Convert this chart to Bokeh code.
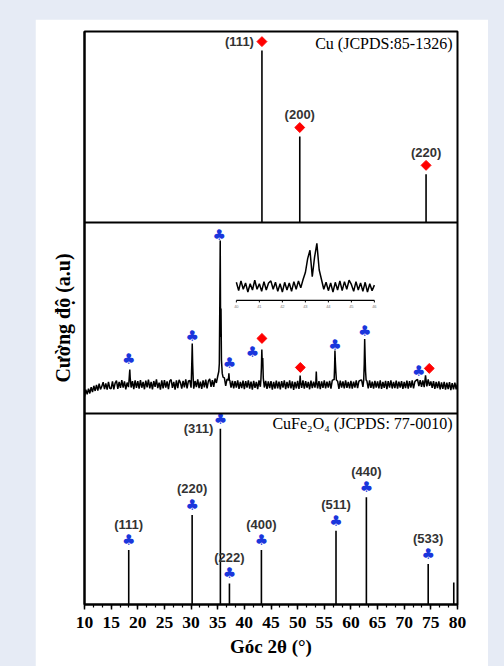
from bokeh.plotting import figure
from bokeh.models import Range1d, Span, SingleIntervalTicker, FixedTicker
from bokeh.core.properties import value
from bokeh.embed import file_html
from bokeh.resources import INLINE

# ---------------- data ----------------
# Cu reference (JCPDS 85-1326)
cu_2theta = [43.3, 50.4, 74.1]
cu_intensity = [100, 50, 28]
cu_hkl = ["(111)", "(200)", "(220)"]

# CuFe2O4 reference (JCPDS 77-0010)
fe_2theta = [18.3, 30.2, 35.5, 37.2, 43.2, 57.2, 62.9, 74.5]
fe_intensity = [31, 51, 100, 12, 31, 42, 61, 23]
fe_hkl = ["(111)", "(220)", "(311)", "(222)", "(400)", "(511)", "(440)", "(533)"]
fe_extra_2theta = [79.3]
fe_extra_intensity = [12.5]

# measured sample pattern: background every 0.25 deg from 10 to 80
sample_start = 10.0
sample_step = 0.25
sample_background = [
    9.0, 12.5, 10.0, 13.0, 10.5, 13.8, 11.2, 14.5, 11.8, 15.0, 12.0, 15.6, 12.6, 14.2, 16.4, 12.8, 15.8, 12.5, 16.6, 13.2,
    13.0, 16.8, 12.6, 15.9, 17.2, 12.9, 16.5, 13.4, 17.5, 13.5, 16.8, 12.6, 16.2, 13.8, 17.6, 13.6, 16.9, 12.8, 17.3, 13.4,
    17.0, 13.0, 17.5, 13.5, 16.6, 12.7, 17.2, 13.7, 17.8, 13.2, 16.5, 12.6, 17.0, 14.0, 17.9, 13.3, 16.2, 12.5, 17.4, 13.2,
    17.5, 13.6, 16.8, 12.8, 17.0, 17.8, 13.4, 16.6, 12.5, 17.3, 13.3, 17.6, 16.2, 13.0, 17.1, 13.7, 17.9, 13.2, 16.9, 17.4,
    13.5, 17.5, 13.0, 17.0, 13.8, 17.9, 13.3, 16.7, 12.9, 17.4, 13.7, 17.7, 13.2, 16.9, 18.1, 13.9, 17.5, 14.0, 18.3, 16.0,
    19.5, 21.0, 20.0, 19.2, 17.8, 18.6, 14.5, 18.0, 13.8, 17.5, 13.6, 17.1, 13.2, 16.9, 13.5, 17.4, 12.9, 16.6, 13.3, 17.2,
    12.8, 17.0, 13.5, 17.4, 13.0, 16.7, 12.5, 17.1, 13.4, 16.5, 12.8, 17.3, 14.0, 17.8, 16.8, 13.6, 17.1, 12.9, 16.8, 13.3,
    16.9, 12.5, 16.5, 13.0, 17.2, 13.2, 16.7, 12.6, 17.0, 13.5, 17.4, 12.8, 16.5, 13.3, 17.3, 13.1, 16.8, 12.4, 16.6, 13.2,
    17.1, 12.9, 16.5, 13.4, 17.4, 13.0, 16.9, 13.5, 16.6, 12.7, 17.2, 13.3, 16.7, 13.6, 17.3, 13.1, 17.0, 12.8, 16.8, 13.4,
    17.4, 13.2, 16.7, 13.5, 17.1, 13.0, 17.3, 17.8, 13.7, 13.3, 16.9, 12.9, 17.2, 13.6, 16.8, 13.1, 17.4, 13.4, 16.6, 13.2,
    17.1, 13.0, 16.7, 13.6, 17.3, 13.3, 16.9, 17.4, 17.6, 13.9, 17.2, 13.5, 17.0, 13.1, 17.4, 13.4, 16.7, 13.0, 17.1, 13.6,
    16.8, 13.2, 17.3, 12.9, 16.5, 13.4, 17.1, 12.8, 16.9, 13.5, 17.4, 13.1, 16.6, 13.3, 17.2, 13.0, 16.7, 13.6, 17.0, 12.9,
    16.5, 13.3, 17.2, 13.0, 16.9, 13.6, 17.3, 13.1, 16.7, 17.4, 17.8, 14.3, 17.5, 13.9, 17.3, 13.8, 17.7, 14.2, 17.9, 14.5,
    16.8, 13.4, 17.0, 12.9, 16.6, 13.3, 16.8, 12.6, 16.3, 12.9, 16.5, 12.5, 16.1, 12.8, 16.4, 12.3, 15.9, 12.6, 16.2, 12.7,
    15.8,
]
# sample peaks (2theta, intensity) point by point
sample_peak_2theta = [
    [18.35, 18.45, 18.5, 18.57, 18.65],
    [30.05, 30.15, 30.22, 30.3, 30.4],
    [35.2, 35.3, 35.4, 35.47, 35.55, 35.62, 35.7, 35.85, 36.0],
    [37.0, 37.1, 37.2],
    [43.1, 43.2, 43.28, 43.36, 43.45, 43.55],
    [50.4, 50.47, 50.55],
    [53.42, 53.5, 53.58],
    [56.85, 56.93, 57.0, 57.08, 57.17, 57.27],
    [62.4, 62.5, 62.58, 62.66, 62.75, 62.85],
    [73.9, 74.0, 74.1],
]
sample_peak_intensity = [
    [17.0, 21.0, 23.0, 19.0, 16.5],
    [17.5, 28.0, 36.6, 26.0, 18.0],
    [22.0, 26.0, 60.0, 90.6, 40.0, 55.0, 28.0, 21.0, 19.0],
    [17.5, 21.0, 17.0],
    [17.5, 24.0, 33.5, 26.0, 29.0, 18.5],
    [16.5, 19.9, 16.5],
    [16.5, 22.0, 16.5],
    [17.5, 24.0, 33.0, 27.0, 22.0, 17.5],
    [17.5, 26.0, 39.0, 30.0, 22.0, 17.5],
    [17.5, 20.0, 17.5],
]
# phase markers on the sample pattern
sample_club_2theta = [18.3, 30.2, 35.3, 37.2, 41.5, 57.0, 62.6, 72.7]
sample_club_height = [28.3, 40.8, 93.2, 26.7, 32.0, 36.0, 43.0, 22.5]
sample_cu_2theta = [43.3, 50.5, 74.7]
sample_cu_height = [39.3, 24.1, 23.6]

# inset: zoom 40-46 deg, every 0.1 deg
inset_2theta_start = 40.0
inset_step = 0.1
inset_intensity = [
    13.0, 7.0, 14.0, 8.0, 12.5, 6.0, 12.0, 7.5, 14.5, 8.0,
    12.0, 6.5, 13.5, 7.5, 12.5, 14.0, 8.0, 13.0, 6.5, 12.0,
    6.0, 13.0, 7.5, 12.5, 6.5, 13.5, 8.0, 14.0, 9.0, 15.0,
    20.0, 30.0, 36.0, 17.0, 31.0, 41.0, 22.0, 15.0, 8.0, 13.0,
    7.0, 12.5, 6.0, 13.0, 7.5, 14.0, 7.0, 13.5, 8.0, 14.5,
    11.5, 6.5, 13.5, 7.5, 12.5, 6.5, 13.0, 6.0, 12.0, 7.0, 11.0,
]
inset_ticks = [40, 41, 42, 43, 44, 45, 46]

# ---------------- layout constants ----------------
TOP_BASE = 200.0      # panel offsets on the shared y scale
MID_BASE = 100.0
BOT_BASE = 0.0
REF_SCALE_CU = 0.90
REF_SCALE_FE = 0.92
PPU = 573.0 / 300.0   # pixels per y unit
INSET_X0, INSET_X1 = 38.5, 64.4
INSET_Y0 = 159.2
INSET_SY = 0.73

SERIF = value("Liberation Serif")
SANS = value("Liberation Sans")
CLUB_COLOR = "#1a36dc"
DIAMOND_COLOR = "#ff0000"
DIAMOND_ANGLE = 0.7854

p = figure(width=453, height=647, x_range=Range1d(10, 80), y_range=Range1d(0, 300),
           output_backend="svg", toolbar_location=None,
           min_border_left=49, min_border_right=31, min_border_top=12, min_border_bottom=62)
p.grid.visible = False
p.background_fill_color = "white"
p.border_fill_color = "white"
p.outline_line_color = "black"
p.outline_line_width = 2

# axes
xa = p.xaxis[0]
xa.ticker = SingleIntervalTicker(interval=5, num_minor_ticks=3)
xa.axis_line_width = 2
xa.major_tick_out = 5
xa.major_tick_in = 0
xa.minor_tick_out = 3
xa.minor_tick_in = 0
xa.major_tick_line_width = 1.5
xa.minor_tick_line_width = 1.2
xa.major_label_standoff = 7
xa.major_label_text_font = "Liberation Serif"
xa.major_label_text_font_style = "bold"
xa.major_label_text_font_size = "17.5px"
xa.major_label_text_color = "black"
xa.axis_label = "Góc 2θ (°)"
xa.axis_label_text_font = "Liberation Serif"
xa.axis_label_text_font_style = "bold"
xa.axis_label_text_font_size = "19px"
xa.axis_label_text_color = "black"
xa.axis_label_standoff = 5

ya = p.yaxis[0]
ya.ticker = FixedTicker(ticks=[])
ya.major_label_text_font_size = "0px"
ya.axis_line_width = 2
ya.major_tick_line_color = None
ya.minor_tick_line_color = None
ya.axis_label = "Cường độ (a.u)"
ya.axis_label_text_font = "Liberation Serif"
ya.axis_label_text_font_style = "bold"
ya.axis_label_text_font_size = "20px"
ya.axis_label_text_color = "black"
ya.axis_label_standoff = 11

for loc in (MID_BASE, TOP_BASE):
    p.add_layout(Span(location=loc, dimension="width", line_color="black", line_width=2))

# ---------- top panel: Cu ----------
cu_top = [TOP_BASE + v * REF_SCALE_CU for v in cu_intensity]
p.segment(x0=cu_2theta, y0=[TOP_BASE] * len(cu_2theta), x1=cu_2theta, y1=cu_top,
          line_color="black", line_width=1.6)
cu_mark_y = [t + 9.0 / PPU for t in cu_top]
p.scatter(x=cu_2theta, y=cu_mark_y, marker="square", angle=DIAMOND_ANGLE, size=7,
          fill_color=DIAMOND_COLOR, line_color=DIAMOND_COLOR)
p.text(x=cu_2theta[:1], y=cu_mark_y[:1], text=cu_hkl[:1], x_offset=-8, text_align="right",
       text_baseline="middle", text_font=SANS, text_font_style="bold", text_font_size="13px",
       text_color="#333333")
p.text(x=cu_2theta[1:], y=cu_mark_y[1:], text=cu_hkl[1:], y_offset=-13, text_align="center",
       text_baseline="middle", text_font=SANS, text_font_style="bold", text_font_size="13px",
       text_color="#333333")
p.text(x=[80], y=[TOP_BASE + 93.5], text=["Cu (JCPDS:85-1326)"], x_offset=-5,
       text_align="right", text_baseline="middle", text_font=SERIF, text_font_size="16px",
       text_color="black")

# ---------- middle panel: sample ----------
windows = [(min(px), max(px)) for px in sample_peak_2theta]
pts = []
for i, v in enumerate(sample_background):
    t = sample_start + i * sample_step
    if any(a <= t <= b for a, b in windows):
        continue
    pts.append((t, v))
for px, py in zip(sample_peak_2theta, sample_peak_intensity):
    pts.extend(zip(px, py))
pts.sort()
p.line(x=[a for a, _ in pts], y=[MID_BASE + b for _, b in pts], line_color="black",
       line_width=1.5)

p.text(x=sample_club_2theta, y=[MID_BASE + h for h in sample_club_height],
       text=["♣"] * len(sample_club_2theta), text_align="center", text_baseline="middle",
       text_font=value("DejaVu Sans"), text_font_size="15px", text_color=CLUB_COLOR)
p.scatter(x=sample_cu_2theta, y=[MID_BASE + h for h in sample_cu_height], marker="square",
          angle=DIAMOND_ANGLE, size=7, fill_color=DIAMOND_COLOR, line_color=DIAMOND_COLOR)

# inset
sx = (INSET_X1 - INSET_X0) / 6.0
ix = [INSET_X0 + (i * inset_step) * sx for i in range(len(inset_intensity))]
iy = [INSET_Y0 + v * INSET_SY for v in inset_intensity]
p.line(x=ix, y=iy, line_color="black", line_width=1.5)
p.line(x=[INSET_X0, INSET_X1], y=[INSET_Y0, INSET_Y0], line_color="black", line_width=1.2)
tx = [INSET_X0 + (t - inset_2theta_start) * sx for t in inset_ticks]
p.segment(x0=tx, y0=[INSET_Y0] * len(tx), x1=tx, y1=[INSET_Y0 - 2.0 / PPU] * len(tx),
          line_color="black", line_width=1)
p.text(x=tx, y=[INSET_Y0] * len(tx), text=[str(t) for t in inset_ticks], y_offset=6,
       text_align="center", text_baseline="middle", text_font=SANS, text_font_size="4px",
       text_color="#777777")

# ---------- bottom panel: CuFe2O4 ----------
fe_top = [BOT_BASE + v * REF_SCALE_FE for v in fe_intensity]
p.segment(x0=fe_2theta, y0=[BOT_BASE] * len(fe_2theta), x1=fe_2theta, y1=fe_top,
          line_color="black", line_width=1.6)
p.segment(x0=fe_extra_2theta, y0=[BOT_BASE], x1=fe_extra_2theta,
          y1=[BOT_BASE + v * REF_SCALE_FE for v in fe_extra_intensity], line_color="black",
          line_width=1.6)
p.text(x=fe_2theta, y=fe_top, text=["♣"] * len(fe_2theta), y_offset=-10, text_align="center",
       text_baseline="middle", text_font=value("DejaVu Sans"), text_font_size="15px",
       text_color=CLUB_COLOR)
lab_idx = [i for i in range(len(fe_hkl)) if fe_hkl[i] != "(311)"]
p.text(x=[fe_2theta[i] for i in lab_idx], y=[fe_top[i] for i in lab_idx],
       text=[fe_hkl[i] for i in lab_idx], y_offset=-26, text_align="center",
       text_baseline="middle", text_font=SANS, text_font_style="bold", text_font_size="13px",
       text_color="#333333")
k311 = fe_hkl.index("(311)")
p.text(x=[fe_2theta[k311]], y=[fe_top[k311]], text=[fe_hkl[k311]], x_offset=-7,
       text_align="right", text_baseline="middle", text_font=SANS, text_font_style="bold",
       text_font_size="13px", text_color="#333333")
p.text(x=[80], y=[BOT_BASE + 94.8], text=["CuFe₂O₄ (JCPDS: 77-0010)"], x_offset=-5,
       text_align="right", text_baseline="middle", text_font=SERIF, text_font_size="16px",
       text_color="black")

html = file_html(p, INLINE)
html = html.replace("</head>",
                    "<style>html,body{margin:0;background:#e6ebf5;}body{padding:19px 0 0 35px;}</style></head>", 1)
open("out.html", "w").write(html)
